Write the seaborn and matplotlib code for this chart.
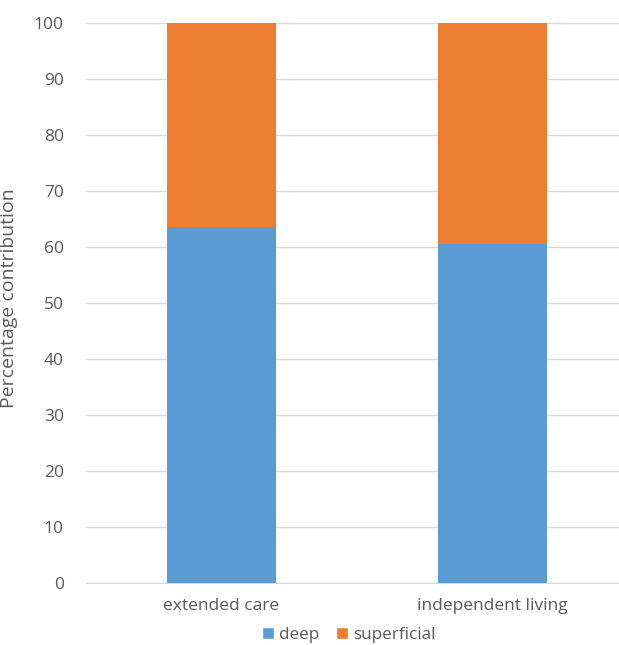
import matplotlib
matplotlib.use("Agg")
import matplotlib.pyplot as plt
import seaborn as sns
import pandas as pd
from matplotlib.patches import Patch

categories = ["extended care", "independent living"]
deep = [63.5, 60.5]
superficial = [36.5, 39.5]

sns.set_style("white")
plt.rcParams['font.family'] = ['Open Sans', 'DejaVu Sans']

blue = "#5B9BD5"
orange = "#ED7D31"
text_c = "#595959"

df = pd.DataFrame({"category": categories, "deep": deep, "superficial": superficial})
df["total"] = df["deep"] + df["superficial"]

fig = plt.figure(figsize=(6.19, 6.45), dpi=100)
ax = fig.add_axes([86/619, 1-583/645, 1-86/619, (583-23)/645])

sns.barplot(data=df, x="category", y="total", color=orange, width=0.4, ax=ax,
            saturation=1, linewidth=0, zorder=2)
sns.barplot(data=df, x="category", y="deep", color=blue, width=0.4, ax=ax,
            saturation=1, linewidth=0, zorder=3)

ax.set_ylim(0, 100)
ax.set_xlim(-0.5, 1.467)
ax.set_yticks(range(0, 101, 10))
ax.yaxis.grid(True, color="#D9D9D9", linewidth=1, zorder=0)
ax.set_axisbelow(True)
for s in ["top", "right", "left"]:
    ax.spines[s].set_visible(False)
ax.spines["bottom"].set_color("#D9D9D9")
ax.tick_params(axis="y", length=0, labelsize=12.5, colors=text_c, pad=16)
ax.tick_params(axis="x", length=0, labelsize=12.5, colors=text_c, pad=11)
ax.set_xlabel("")
ax.set_ylabel("Percentage contribution", fontsize=14, color=text_c, labelpad=10)
ax.yaxis.set_label_coords(-(86 - 18) / (619 - 86), (583 - 298) / (583 - 23))

handles = [Patch(facecolor=blue, label="deep"), Patch(facecolor=orange, label="superficial")]
fig.legend(handles=handles, loc="center", bbox_to_anchor=(349/619, 1-635/645), ncol=2,
           frameon=False, fontsize=12.3, handlelength=0.7, handleheight=0.7,
           handletextpad=0.3, columnspacing=1.0, labelcolor=text_c)

fig.savefig("out.png", dpi=100)
